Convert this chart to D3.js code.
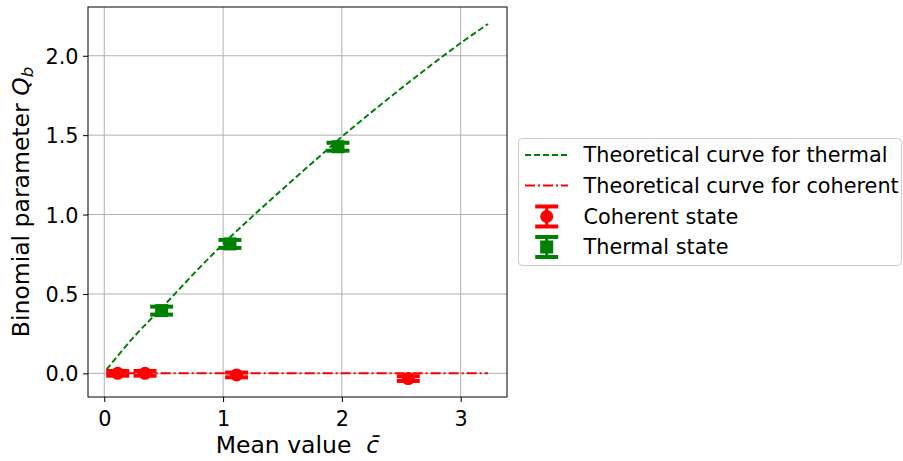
<!DOCTYPE html>
<html>
<head>
<meta charset="utf-8">
<script src="https://cdn.jsdelivr.net/npm/d3@7"></script>
<style>
  html, body { margin: 0; padding: 0; background: #fff; }
  svg { display: block; font-family: "DejaVu Sans", sans-serif; }
</style>
</head>
<body>
<svg id="chart" width="903" height="461"></svg>
<script>
// Theoretical binomial parameter for a thermal source
const thermalCurveX = [0.02, 0.25, 0.5, 0.75, 1.0, 1.25, 1.5, 1.75, 2.0, 2.25, 2.5, 2.75, 3.0, 3.23];
const thermalCurveY = [0.025, 0.23, 0.425, 0.625, 0.815, 0.99, 1.16, 1.325, 1.49, 1.645, 1.795, 1.94, 2.08, 2.20];

// Theoretical binomial parameter for a coherent source
const coherentCurveX = [0.02, 3.23];
const coherentCurveY = [0, 0];

// Measured points
const coherentX = [0.113, 0.343, 1.114, 2.559];
const coherentY = [0.0, 0.0, -0.01, -0.033];
const coherentErr = [0.015, 0.015, 0.015, 0.015];

const thermalX = [0.483, 1.058, 1.967];
const thermalY = [0.395, 0.815, 1.427];
const thermalErr = [0.025, 0.025, 0.025];

const xTicks = [0, 1, 2, 3];
const yTicks = [0.0, 0.5, 1.0, 1.5, 2.0];

const legendLabels = [
  "Theoretical curve for thermal",
  "Theoretical curve for coherent",
  "Coherent state",
  "Thermal state"
];

const GREEN = "#008000";
const RED = "#ff0000";
const FONT = 20.8;
const LABEL_FONT = 23.5;

const svg = d3.select("#chart");
const plot = { left: 88, right: 507, top: 7, bottom: 397 };

const x = d3.scaleLinear().domain([-0.137, 3.39]).range([plot.left, plot.right]);
const y = d3.scaleLinear().domain([-0.149, 2.307]).range([plot.bottom, plot.top]);

// grid
const grid = svg.append("g");
grid.selectAll("line.gx").data(xTicks).join("line")
  .attr("x1", d => x(d)).attr("x2", d => x(d))
  .attr("y1", plot.top).attr("y2", plot.bottom)
  .attr("stroke", "#b0b0b0").attr("stroke-width", 1);
grid.selectAll("line.gy").data(yTicks).join("line")
  .attr("y1", d => y(d)).attr("y2", d => y(d))
  .attr("x1", plot.left).attr("x2", plot.right)
  .attr("stroke", "#b0b0b0").attr("stroke-width", 1);

// axes
const xAxis = d3.axisBottom(x).tickValues(xTicks).tickFormat(d3.format("d"))
  .tickSize(5).tickPadding(5);
const yAxis = d3.axisLeft(y).tickValues(yTicks).tickFormat(d3.format(".1f"))
  .tickSize(5).tickPadding(5);

const gx = svg.append("g").attr("transform", `translate(0,${plot.bottom})`).call(xAxis);
const gy = svg.append("g").attr("transform", `translate(${plot.left},0)`).call(yAxis);
[gx, gy].forEach(g => {
  g.select(".domain").remove();
  g.selectAll(".tick line").attr("stroke", "#000").attr("stroke-width", 1);
  g.selectAll(".tick text").attr("fill", "#000")
    .style("font-family", "DejaVu Sans").style("font-size", FONT + "px");
});
gx.selectAll(".tick text").attr("dy", null).attr("y", 28.5);
gy.selectAll(".tick text").attr("x", -9.5).attr("dy", "0.36em");

// clipped plotting area
svg.append("clipPath").attr("id", "clip").append("rect")
  .attr("x", plot.left).attr("y", plot.top)
  .attr("width", plot.right - plot.left).attr("height", plot.bottom - plot.top);
const area = svg.append("g").attr("clip-path", "url(#clip)");

const smooth = d3.line().x(d => x(d[0])).y(d => y(d[1])).curve(d3.curveCatmullRom);
const straight = d3.line().x(d => x(d[0])).y(d => y(d[1]));

area.append("path")
  .datum(thermalCurveX.map((v, i) => [v, thermalCurveY[i]]))
  .attr("d", smooth).attr("fill", "none").attr("stroke", GREEN)
  .attr("stroke-width", 2).attr("stroke-dasharray", "6,3");

area.append("path")
  .datum(coherentCurveX.map((v, i) => [v, coherentCurveY[i]]))
  .attr("d", straight).attr("fill", "none").attr("stroke", RED)
  .attr("stroke-width", 2).attr("stroke-dasharray", "10,3,2,3");

// error bars with thick caps
function errorBars(g, xs, ys, errs, color, shape) {
  const pts = xs.map((v, i) => ({ x: v, y: ys[i], e: errs[i] }));
  const cap = 11.5;
  const grp = g.append("g");
  pts.forEach(p => {
    const cx = x(p.x), y0 = y(p.y - p.e), y1 = y(p.y + p.e);
    grp.append("line").attr("x1", cx).attr("x2", cx).attr("y1", y0).attr("y2", y1)
      .attr("stroke", color).attr("stroke-width", 3);
    [y0, y1].forEach(yy => {
      grp.append("line").attr("x1", cx - cap).attr("x2", cx + cap)
        .attr("y1", yy).attr("y2", yy)
        .attr("stroke", color).attr("stroke-width", 4);
    });
    if (shape === "circle") {
      grp.append("circle").attr("cx", cx).attr("cy", y(p.y)).attr("r", 6.5).attr("fill", color);
    } else {
      grp.append("rect").attr("x", cx - 6.5).attr("y", y(p.y) - 6.5)
        .attr("width", 13).attr("height", 13).attr("fill", color);
    }
  });
}
errorBars(area, coherentX, coherentY, coherentErr, RED, "circle");
errorBars(area, thermalX, thermalY, thermalErr, GREEN, "square");

// frame
svg.append("rect")
  .attr("x", plot.left).attr("y", plot.top)
  .attr("width", plot.right - plot.left).attr("height", plot.bottom - plot.top)
  .attr("fill", "none").attr("stroke", "#000").attr("stroke-width", 1);

// axis titles
const xt = svg.append("text").attr("x", (plot.left + plot.right) / 2).attr("y", 453)
  .attr("text-anchor", "middle").style("font-size", LABEL_FONT + "px").attr("fill", "#000");
xt.append("tspan").text("Mean value \u00a0");
xt.append("tspan").attr("font-style", "italic").text("c\u0304");

const yt = svg.append("text")
  .attr("transform", `translate(29,${(plot.top + plot.bottom) / 2}) rotate(-90)`)
  .attr("text-anchor", "middle").style("font-size", LABEL_FONT + "px").attr("fill", "#000");
yt.append("tspan").text("Binomial parameter ");
yt.append("tspan").attr("font-style", "italic").text("Q");
yt.append("tspan").attr("font-style", "italic").attr("font-size", "16.5px").attr("dy", 4).text("b");

// legend
const lg = svg.append("g");
lg.append("rect").attr("x", 518.5).attr("y", 138.5).attr("width", 383).attr("height", 127)
  .attr("rx", 4).attr("fill", "#fff").attr("fill-opacity", 0.8)
  .attr("stroke", "#cccccc").attr("stroke-width", 1);

const baselines = [162, 192.5, 223.5, 254];
lg.selectAll("text.lab").data(legendLabels).join("text")
  .attr("x", 583.5).attr("y", (d, i) => baselines[i])
  .style("font-size", FONT + "px").attr("fill", "#000").text(d => d);

lg.append("line").attr("x1", 525).attr("x2", 568).attr("y1", 155).attr("y2", 155)
  .attr("stroke", GREEN).attr("stroke-width", 2).attr("stroke-dasharray", "6,3");
lg.append("line").attr("x1", 525).attr("x2", 568).attr("y1", 185.5).attr("y2", 185.5)
  .attr("stroke", RED).attr("stroke-width", 2).attr("stroke-dasharray", "10,3,2,3");

function legendMarker(cy, color, shape) {
  const cx = 546.7, half = 10;
  lg.append("line").attr("x1", cx).attr("x2", cx).attr("y1", cy - half).attr("y2", cy + half)
    .attr("stroke", color).attr("stroke-width", 3);
  [cy - half, cy + half].forEach(yy => lg.append("line")
    .attr("x1", cx - 11.5).attr("x2", cx + 11.5).attr("y1", yy).attr("y2", yy)
    .attr("stroke", color).attr("stroke-width", 4));
  if (shape === "circle") lg.append("circle").attr("cx", cx).attr("cy", cy).attr("r", 6.5).attr("fill", color);
  else lg.append("rect").attr("x", cx - 6.5).attr("y", cy - 6.5).attr("width", 13).attr("height", 13).attr("fill", color);
}
legendMarker(216.5, RED, "circle");
legendMarker(247, GREEN, "square");
</script>
</body>
</html>
